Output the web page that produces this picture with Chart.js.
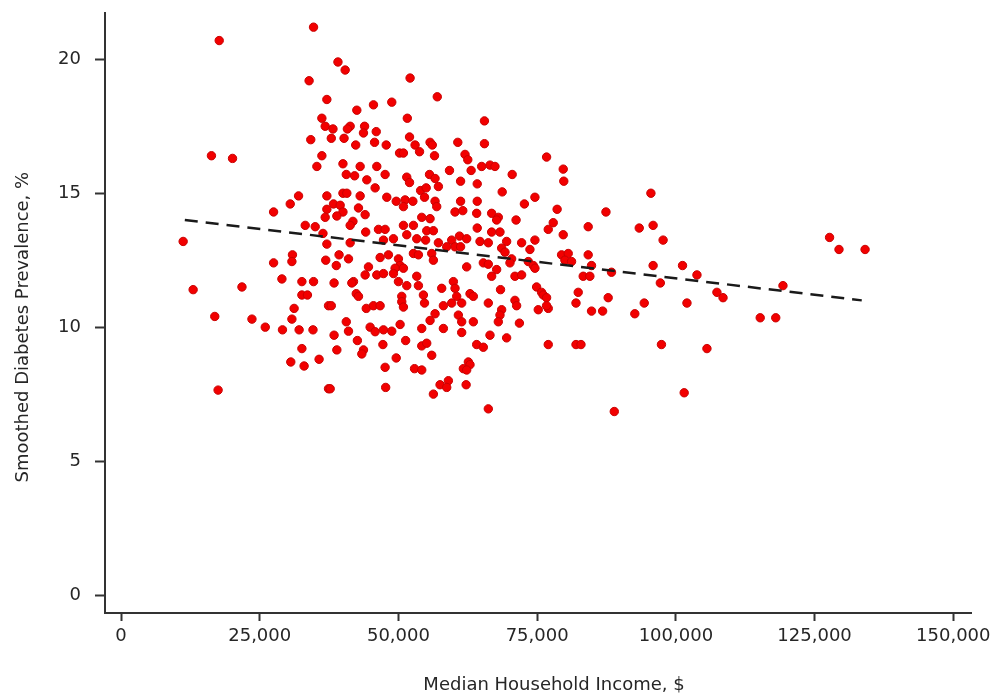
<!DOCTYPE html>
<html>
<head>
<meta charset="utf-8">
<script src="https://cdn.jsdelivr.net/npm/chart.js@4/dist/chart.umd.min.js"></script>
<style>
  html, body { margin: 0; padding: 0; background: #ffffff; }
  #wrap { width: 993px; height: 694px; }
</style>
</head>
<body>
<div id="wrap"><canvas id="c" width="993" height="694"></canvas></div>
<script>
// Median household income ($) per county
const income = [
  11200,13000,16300,17700,20100,16900,17500,21800,23600,26000,
  27500,27500,29000,29100,30500,32000,30900,30800,30600,30800,
  31200,32600,34700,32600,33600,32100,34600,32600,33000,35700,
  33200,35000,36400,37100,36900,37400,34700,33900,37100,36200,
  36800,34200,37900,36200,35300,37100,37100,37400,
  39100,40400,52100,57000,48800,45500,42500,38200,41300,40800,
  43900,43700,46000,51600,65500,40200,42300,45700,47800,52000,
  53000,53800,55700,56100,60700,65500,50200,50900,56500,62000,
  62500,40000,40600,42100,43100,46100,47600,59200,63100,65000,
  66500,44300,45800,51500,52000,55600,56600,57200,61200,64200,
  40000,40700,43100,47900,49600,51200,52600,50900,54000,55000,
  54700,56600,56900,61200,64200,38300,39500,40000,42800,44000,
  60200,61600,64100,66800,54200,55700,
  67400,76700,79700,79800,70500,68700,74600,72700,78600,87400,
  95500,68000,71200,36800,38900,
  41800,41300,44100,46400,47600,47300,49100,50900,52700,51500,
  53300,55100,56300,54900,57200,58700,59600,60200,61000,62300,
  61200,64200,64700,66200,66800,41300,38800,39300,41000,46700,
  48200,50000,50300,49400,50900,49100,52700,53600,56000,56300,
  62300,65300,66200,66800,44600,44000,46100,47300,38400,41900,
  41600,50000,51500,53300,53600,57800,59900,60200,60500,61400,
  62900,63500,42400,42800,50600,50600,50900,54500,54700,58100,
  59600,66200,37900,44200,45500,46700,56600,55700,60800,61400,
  63500,40600,44900,45800,47300,48800,50300,41000,54200,58100,
  61400,66500,38400,42600,47200,51300,54200,55100,64100,65300,
  38900,43700,43400,56000,49600,47600,52900,54200,61700,62600,
  62900,62300,37700,47700,56300,57500,59000,58700,62200,66200,
  67700,77000,77900,79700,84200,93400,95900,97700,68300,69500,
  72200,74600,73700,68600,69200,70400,70100,79400,80600,80000,
  81200,84200,84800,67700,73400,74300,74600,88400,83300,84500,
  71000,72200,95900,101200,103800,97200,107400,108500,68400,74900,
  75800,76100,76700,82400,87800,71000,71300,75200,77000,76700,
  82000,84800,86800,94300,102000,92600,68600,68300,68000,71800,
  69500,77000,82000,82900,97400,105600,101500,88900,119300,115200,
  118000,127700,129400,134100
];

// Smoothed diabetes prevalence (%) for the same counties
const prevalence = [
  13.2,11.4,16.4,20.7,16.3,10.4,7.65,11.5,10.3,10.0,
  14.3,12.4,11.8,9.9,14.6,14.9,12.7,12.45,8.7,10.3,
  10.7,11.7,11.7,11.2,11.2,9.9,9.9,9.2,8.55,8.8,
  13.8,13.75,13.5,13.1,12.5,10.8,21.2,19.2,18.5,17.8,
  17.5,17.0,17.05,16.4,16.0,14.9,14.4,7.7,
  19.9,19.6,19.3,18.6,18.4,18.3,18.1,17.4,17.5,17.4,
  17.5,17.25,17.3,17.8,17.7,17.05,16.8,16.9,16.8,17.1,
  16.8,16.55,16.9,16.8,16.9,16.85,16.5,16.5,16.4,16.45,
  16.25,16.1,15.7,15.65,16.0,16.0,15.7,15.85,15.85,16.0,
  16.05,15.5,15.2,15.6,15.4,15.7,15.55,15.25,15.45,15.35,
  15.0,15.0,14.9,14.85,14.7,14.75,14.7,14.5,15.1,15.2,
  14.85,14.7,14.5,14.7,14.7,14.6,14.55,14.3,14.45,14.2,
  14.3,14.35,14.25,14.25,14.1,14.05,
  16.0,16.35,15.9,15.45,15.7,15.05,14.85,14.6,14.4,14.3,
  15.0,14.1,14.0,14.1,14.15,
  13.95,13.8,13.55,13.65,13.65,13.25,13.3,13.8,13.8,13.45,
  13.3,13.6,13.6,13.25,13.15,13.0,13.25,13.0,13.4,13.3,
  13.0,13.7,13.2,13.15,13.55,13.15,12.3,12.7,12.55,12.6,
  12.7,12.55,12.3,12.2,12.2,12.0,12.75,12.7,12.75,12.5,
  12.25,12.4,12.35,11.9,12.25,11.95,11.95,12.0,11.65,11.7,
  11.65,11.7,11.55,11.9,11.55,11.45,11.7,11.45,11.15,10.9,
  11.25,11.15,11.25,11.15,11.15,10.95,10.75,11.2,10.9,10.8,
  10.9,10.9,10.8,10.7,10.8,10.8,10.5,10.25,10.45,10.2,
  10.2,10.2,10.0,9.83,9.9,9.85,10.1,9.85,9.95,9.95,
  9.8,9.7,9.7,9.5,9.35,9.5,9.3,9.4,9.35,9.25,
  9.15,9.15,9.0,8.95,8.85,8.5,8.45,8.4,8.45,8.7,
  8.6,8.4,7.7,7.75,7.5,7.85,8.0,7.75,7.85,6.95,
  14.0,13.65,13.9,13.45,13.75,13.7,13.8,13.25,13.55,13.2,
  13.15,13.25,12.9,12.95,12.8,12.55,12.4,12.7,12.75,12.5,
  12.45,12.7,12.3,12.15,12.45,12.3,12.2,12.05,11.9,11.9,
  11.9,11.95,12.3,12.3,11.95,11.65,11.3,11.1,11.4,11.5,
  11.3,11.2,11.1,11.3,11.1,11.0,10.8,10.65,10.7,10.8,
  10.9,10.6,10.6,10.9,10.9,10.5,10.65,10.45,10.2,10.15,
  9.6,9.35,9.35,9.35,9.35,9.2,7.55,6.85,11.55,10.35,
  10.35,13.35,12.9,12.9
];

// Fitted linear trend (dashed line) end points
const trendIncome = [11500, 133500];
const trendPrevalence = [14.0, 11.0];

// Axis tick values
const xTickValues = [0, 25000, 50000, 75000, 100000, 125000, 150000];
const yTickValues = [0, 5, 10, 15, 20];

const xTitle = 'Median Household Income, $';
const yTitle = 'Smoothed Diabetes Prevalence, %';

const points = income.map((v, i) => ({ x: v, y: prevalence[i] }));
const trend = trendIncome.map((v, i) => ({ x: v, y: trendPrevalence[i] }));

const TEXT = '#262626';
const AXIS = '#333333';
const FONT = 'DejaVu Sans';

const titlePlugin = {
  id: 'axisTitles',
  afterDraw(chart) {
    const ctx = chart.ctx;
    const ys = chart.scales.y;
    ctx.save();
    ctx.fillStyle = TEXT;
    ctx.font = '18px "' + FONT + '"';
    ctx.textAlign = 'center';
    ctx.textBaseline = 'alphabetic';
    ctx.fillText(xTitle, 554, 690);
    ctx.translate(27.5, (ys.getPixelForValue(0) + ys.getPixelForValue(20)) / 2);
    ctx.rotate(-Math.PI / 2);
    ctx.fillText(yTitle, 0, 0);
    ctx.restore();
  }
};

new Chart(document.getElementById('c'), {
  type: 'scatter',
  data: {
    datasets: [
      {
        type: 'line',
        data: trend,
        borderColor: '#1a1a1a',
        borderWidth: 2.5,
        borderDash: [13, 8],
        pointRadius: 0,
        fill: false,
        order: 0
      },
      {
        type: 'scatter',
        data: points,
        backgroundColor: '#f20000',
        borderColor: '#c80000',
        borderWidth: 1,
        pointRadius: 4.2,
        order: 1
      }
    ]
  },
  options: {
    responsive: false,
    animation: false,
    devicePixelRatio: 1,
    layout: { padding: { left: 0, top: 13, right: 22, bottom: 0 } },
    plugins: { legend: { display: false }, tooltip: { enabled: false } },
    scales: {
      x: {
        type: 'linear',
        min: -2884,
        max: 153190,
        afterFit(s) { s.height = 81; s.paddingLeft = 0; s.paddingRight = 0; },
        afterBuildTicks(s) { s.ticks = xTickValues.map(v => ({ value: v })); },
        grid: { display: true, drawOnChartArea: false, drawTicks: true, tickLength: 8, tickWidth: 2, tickColor: AXIS },
        border: { display: true, color: AXIS, width: 2 },
        ticks: {
          autoSkip: false, maxRotation: 0, padding: 5,
          color: TEXT, font: { family: FONT, size: 18 },
          callback: v => v.toLocaleString('en-US')
        }
      },
      y: {
        type: 'linear',
        min: -0.672,
        max: 21.729,
        afterFit(s) { s.width = 105; s.paddingTop = 0; s.paddingBottom = 0; },
        afterBuildTicks(s) { s.ticks = yTickValues.map(v => ({ value: v })); },
        grid: { display: true, drawOnChartArea: false, drawTicks: true, tickLength: 10, tickWidth: 2, tickColor: AXIS },
        border: { display: true, color: AXIS, width: 2 },
        ticks: {
          autoSkip: false, padding: 14,
          color: TEXT, font: { family: FONT, size: 18 },
          callback: v => String(v)
        }
      }
    }
  },
  plugins: [titlePlugin]
});
</script>
</body>
</html>
